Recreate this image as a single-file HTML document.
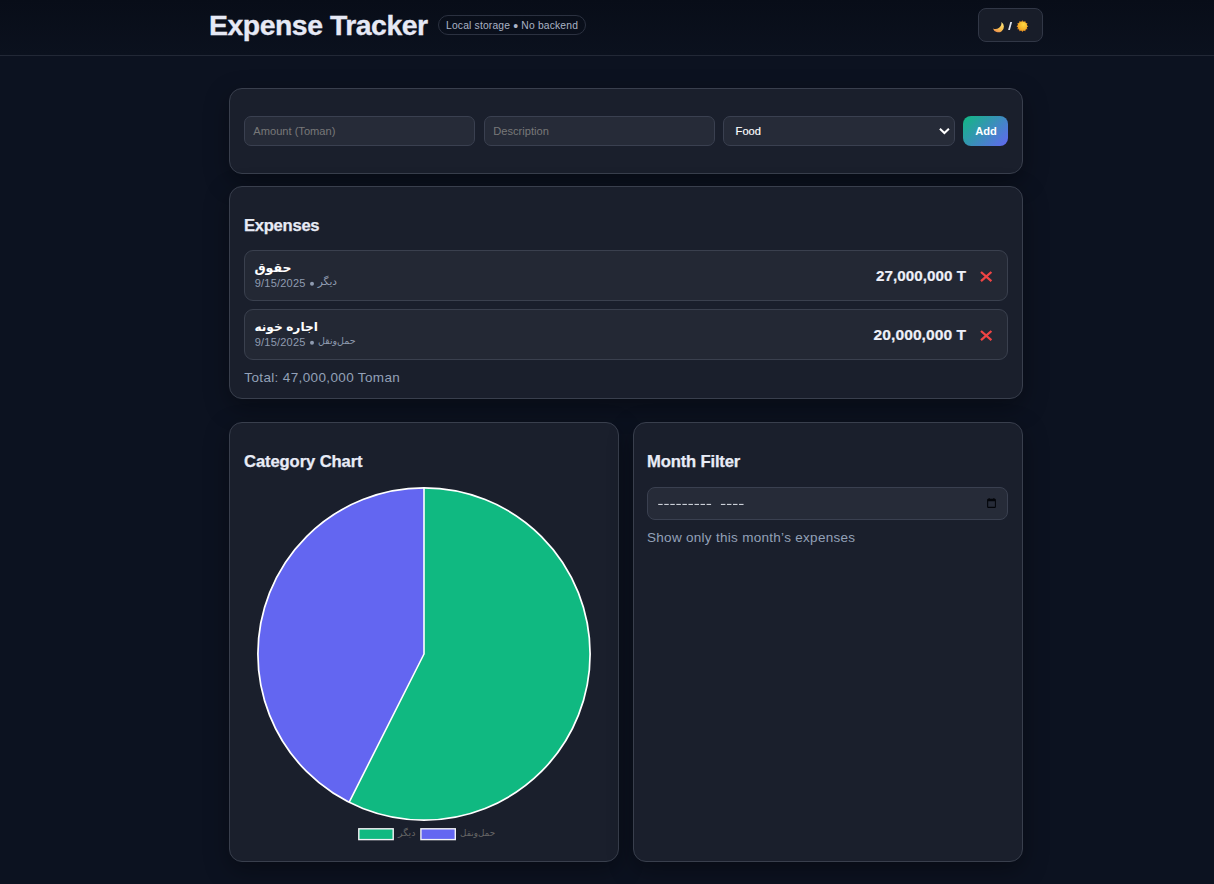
<!DOCTYPE html>
<html lang="en">
<head>
<meta charset="utf-8">
<title>Expense Tracker</title>
<style>
*{box-sizing:border-box;margin:0;padding:0}
html,body{width:1214px;height:884px;overflow:hidden}
body{background:#0c1220;font-family:"Liberation Sans",sans-serif;color:#e5e7eb;position:relative}
.abs{position:absolute}
.t{position:absolute;white-space:nowrap;line-height:1}
.hdr{left:0;top:0;width:1214px;height:56px;border-bottom:1px solid #222836;background:linear-gradient(180deg,#080d18,#0b111e)}
.pill{left:438px;top:15px;width:148px;height:20px;border:1px solid #2b3140;border-radius:10px}
.toggle{left:978px;top:8px;width:65px;height:34px;border:1px solid #313746;border-radius:8px;background:#181d29}
.card{position:absolute;background:#1a1f2c;border:1px solid #393f4d;border-radius:13px;box-shadow:0 8px 24px rgba(0,0,0,.35)}
.inp{position:absolute;background:#262b38;border:1px solid #3a4050;border-radius:7px;height:30px;top:116px}
.ph{font-size:11.11px;color:#787878}
.h2{font-size:16.6px;font-weight:bold;color:#e8ebf6;-webkit-text-stroke:.25px #e8ebf6}
.row{position:absolute;left:244px;width:764px;height:51px;background:#232834;border:1px solid #3a404e;border-radius:9px}
.amt{font-size:14px;font-weight:bold;color:#eef0f8;transform:scaleX(1.08);transform-origin:100% 50%;-webkit-text-stroke:.2px #eef0f8}
.meta{font-size:11px;color:#8f9bb0}
.muted{color:#93a1b8;font-size:13.5px}
</style>
</head>
<body>
<div class="abs hdr"></div>
<div class="t" id="h1" style="left:209px;top:11px;font-size:28.4px;letter-spacing:-.47px;-webkit-text-stroke:.35px #e6e9f5;font-weight:bold;color:#e6e9f5">Expense Tracker</div>
<div class="abs pill"></div>
<div class="t" id="pilltx" style="left:446px;top:21px;font-size:10.3px;letter-spacing:.18px;color:#aab3c5">Local storage <span style="font-size:14px;line-height:0;position:relative;top:2.3px">•</span> No backend</div>
<div class="abs toggle"></div>
<svg class="abs" style="left:978px;top:8px" width="65" height="34" viewBox="978 8 65 34">
  <defs>
    <radialGradient id="sun" cx="0.62" cy="0.32" r="0.75"><stop offset="0" stop-color="#ffd840"/><stop offset="0.6" stop-color="#f6b62c"/><stop offset="1" stop-color="#ee9a22"/></radialGradient>
    <linearGradient id="moon" x1="0.7" y1="0" x2="0.25" y2="1"><stop offset="0" stop-color="#ffe680"/><stop offset="0.55" stop-color="#f9c24e"/><stop offset="1" stop-color="#ea8a50"/></linearGradient>
  </defs>
  <path d="M1001.4 22 A5.65 5.65 0 1 1 992.9 28.5 A6.1 6.1 0 0 0 1001.4 22 Z" fill="url(#moon)"/>
  <path d="M1010.3 22 L1012.1 22 L1009.9 30 L1008.1 30 Z" fill="#dfe3ec"/>
  <path d="M1021.33 21.83 L1022.40 20.30 L1023.47 21.83ZM1023.66 21.88 L1025.35 21.09 L1025.51 22.95ZM1025.65 23.09 L1027.51 23.25 L1026.72 24.94ZM1026.77 25.13 L1028.30 26.20 L1026.77 27.27ZM1026.72 27.46 L1027.51 29.15 L1025.65 29.31ZM1025.51 29.45 L1025.35 31.31 L1023.66 30.52ZM1023.47 30.57 L1022.40 32.10 L1021.33 30.57ZM1021.14 30.52 L1019.45 31.31 L1019.29 29.45ZM1019.15 29.31 L1017.29 29.15 L1018.08 27.46ZM1018.03 27.27 L1016.50 26.20 L1018.03 25.13ZM1018.08 24.94 L1017.29 23.25 L1019.15 23.09ZM1019.29 22.95 L1019.45 21.09 L1021.14 21.88Z" fill="#f58f24"/>
  <circle cx="1022.4" cy="26.2" r="4.75" fill="url(#sun)"/>
</svg>

<!-- form card -->
<div class="card" style="left:229px;top:88px;width:794px;height:86px"></div>
<div class="inp" style="left:244px;width:231px"></div>
<div class="inp" style="left:484px;width:231px"></div>
<div class="inp" style="left:723px;width:232px"></div>
<div class="t ph" id="ph1" style="left:253.3px;top:125.6px">Amount (Toman)</div>
<div class="t ph" id="ph2" style="left:493.3px;top:125.6px">Description</div>
<div class="t" id="food" style="left:735.6px;top:125.6px;font-size:11.11px;color:#fff;-webkit-text-stroke:.15px #fff">Food</div>
<svg class="abs" style="left:936px;top:124px" width="16" height="14" viewBox="0 0 16 14"><path d="M3.9 4.7 L8.4 9 L12.9 4.7" fill="none" stroke="#fff" stroke-width="2"/></svg>
<div class="abs" style="left:963px;top:116px;width:45px;height:30px;border-radius:8px;background:linear-gradient(135deg,#10b981,#6366f1)"></div>
<div class="t" id="add" style="left:975.2px;top:125.6px;font-size:11.11px;font-weight:bold;color:#fff">Add</div>

<!-- expenses card -->
<div class="card" style="left:229px;top:186px;width:794px;height:213px"></div>
<div class="t h2" id="h2a" style="left:244px;top:218px;letter-spacing:-.27px">Expenses</div>
<div class="row" style="top:250px"></div>
<div class="row" style="top:309px"></div>
<div class="t meta" id="d1" style="left:254.8px;top:277.5px;letter-spacing:.2px">9/15/2025</div>
<div class="t meta" id="d2" style="left:254.8px;top:336.5px;letter-spacing:.2px">9/15/2025</div>
<div class="t amt" id="a1" style="right:248.2px;top:269px;letter-spacing:.05px;transform:scaleX(1.083)">27,000,000 T</div>
<div class="t amt" id="a2" style="right:248.2px;top:328px;letter-spacing:.05px;transform:scaleX(1.113)">20,000,000 T</div>
<div class="t muted" id="tot" style="left:244.3px;top:370.9px;letter-spacing:.36px">Total: 47,000,000 Toman</div>

<!-- chart card -->
<div class="card" style="left:229px;top:422px;width:390px;height:440px"></div>
<div class="t h2" id="h2b" style="left:244px;top:454px;letter-spacing:-.1px">Category Chart</div>

<!-- month card -->
<div class="card" style="left:633px;top:422px;width:390px;height:440px"></div>
<div class="t h2" id="h2c" style="left:647px;top:454px;letter-spacing:-.15px">Month Filter</div>
<div class="abs" style="left:647px;top:487px;width:361px;height:33px;background:#262b38;border:1px solid #3a4050;border-radius:8px"></div>
<div class="t muted" id="show" style="left:647px;top:530.6px;letter-spacing:.29px">Show only this month’s expenses</div>

<!-- overlay svg: pie, legend, arabic text, icons -->
<svg class="abs" style="left:0;top:0" width="1214" height="884" viewBox="0 0 1214 884">
  <circle cx="424" cy="654" r="166.1" fill="#10b981"/>
  <path d="M424 654 L349.1 802.3 A166.1 166.1 0 0 1 424 487.9 Z" fill="#6366f1"/>
  <path d="M424 487.9 L424 654 L349.1 802.3" fill="none" stroke="#fff" stroke-width="1.6" stroke-linejoin="round"/>
  <circle cx="424" cy="654" r="166.1" fill="none" stroke="#fff" stroke-width="1.7"/>
  <rect x="358.8" y="828.8" width="34.4" height="10.8" fill="#10b981" stroke="#f2f2f6" stroke-width="1.4"/>
  <rect x="420.9" y="828.8" width="34.4" height="10.8" fill="#6366f1" stroke="#f2f2f6" stroke-width="1.4"/>
  <!-- bullets -->
  <circle cx="312" cy="283.8" r="2" fill="#8f9bb0"/>
  <circle cx="312" cy="342.8" r="2" fill="#8f9bb0"/>
  <!-- delete X -->
  <path d="M981 272 L991.4 281.2 M991.4 272 L981 281.2" stroke="#ef4444" stroke-width="2.3" fill="none"/>
  <path d="M981 331 L991.4 340.2 M991.4 331 L981 340.2" stroke="#ef4444" stroke-width="2.3" fill="none"/>
  <!-- month dashes -->
  <path d="M658.2 504.4 H711.2" stroke="#dfe3ea" stroke-width="1" stroke-dasharray="4.5 1.55" fill="none"/>
  <path d="M720.9 504.4 H744" stroke="#dfe3ea" stroke-width="1" stroke-dasharray="4.5 1.55" fill="none"/>
  <!-- calendar icon -->
  <path d="M988.3 498.8 h6.4 a1.2 1.2 0 0 1 1.2 1.2 v6.7 a1.2 1.2 0 0 1 -1.2 1.2 h-6.4 a1.2 1.2 0 0 1 -1.2 -1.2 v-6.7 a1.2 1.2 0 0 1 1.2 -1.2 Z M988.2 501.3 v5.5 h6.7 v-5.5 Z M988.5 498.1 h1.4 v.8 h-1.4 Z M993.1 498.1 h1.4 v.8 h-1.4 Z" fill="#03050a" fill-rule="evenodd"/>
  <text x="254.4" y="272" font-family="'Liberation Sans','DejaVu Sans',sans-serif" font-size="12.5" font-weight="bold" fill="#ffffff" text-anchor="start">حقوق</text>
  <text x="317.8" y="285.4" font-family="'Liberation Sans','DejaVu Sans',sans-serif" font-size="10.5" fill="#8f9bb0" text-anchor="start">دیگر</text>
  <text x="254.4" y="331.3" font-family="'Liberation Sans','DejaVu Sans',sans-serif" font-size="12.2" font-weight="bold" fill="#ffffff" text-anchor="start">اجاره خونه</text>
  <text x="317.9" y="343.9" font-family="'Liberation Sans','DejaVu Sans',sans-serif" font-size="9.5" fill="#8f9bb0" text-anchor="start">حمل‌ونقل</text>
  <text x="398" y="836" font-family="'Liberation Sans','DejaVu Sans',sans-serif" font-size="9.5" fill="#666666" text-anchor="start">دیگر</text>
  <text x="460.1" y="835.6" font-family="'Liberation Sans','DejaVu Sans',sans-serif" font-size="8.8" fill="#666666" text-anchor="start">حمل‌ونقل</text>
</svg>
</body>
</html>
